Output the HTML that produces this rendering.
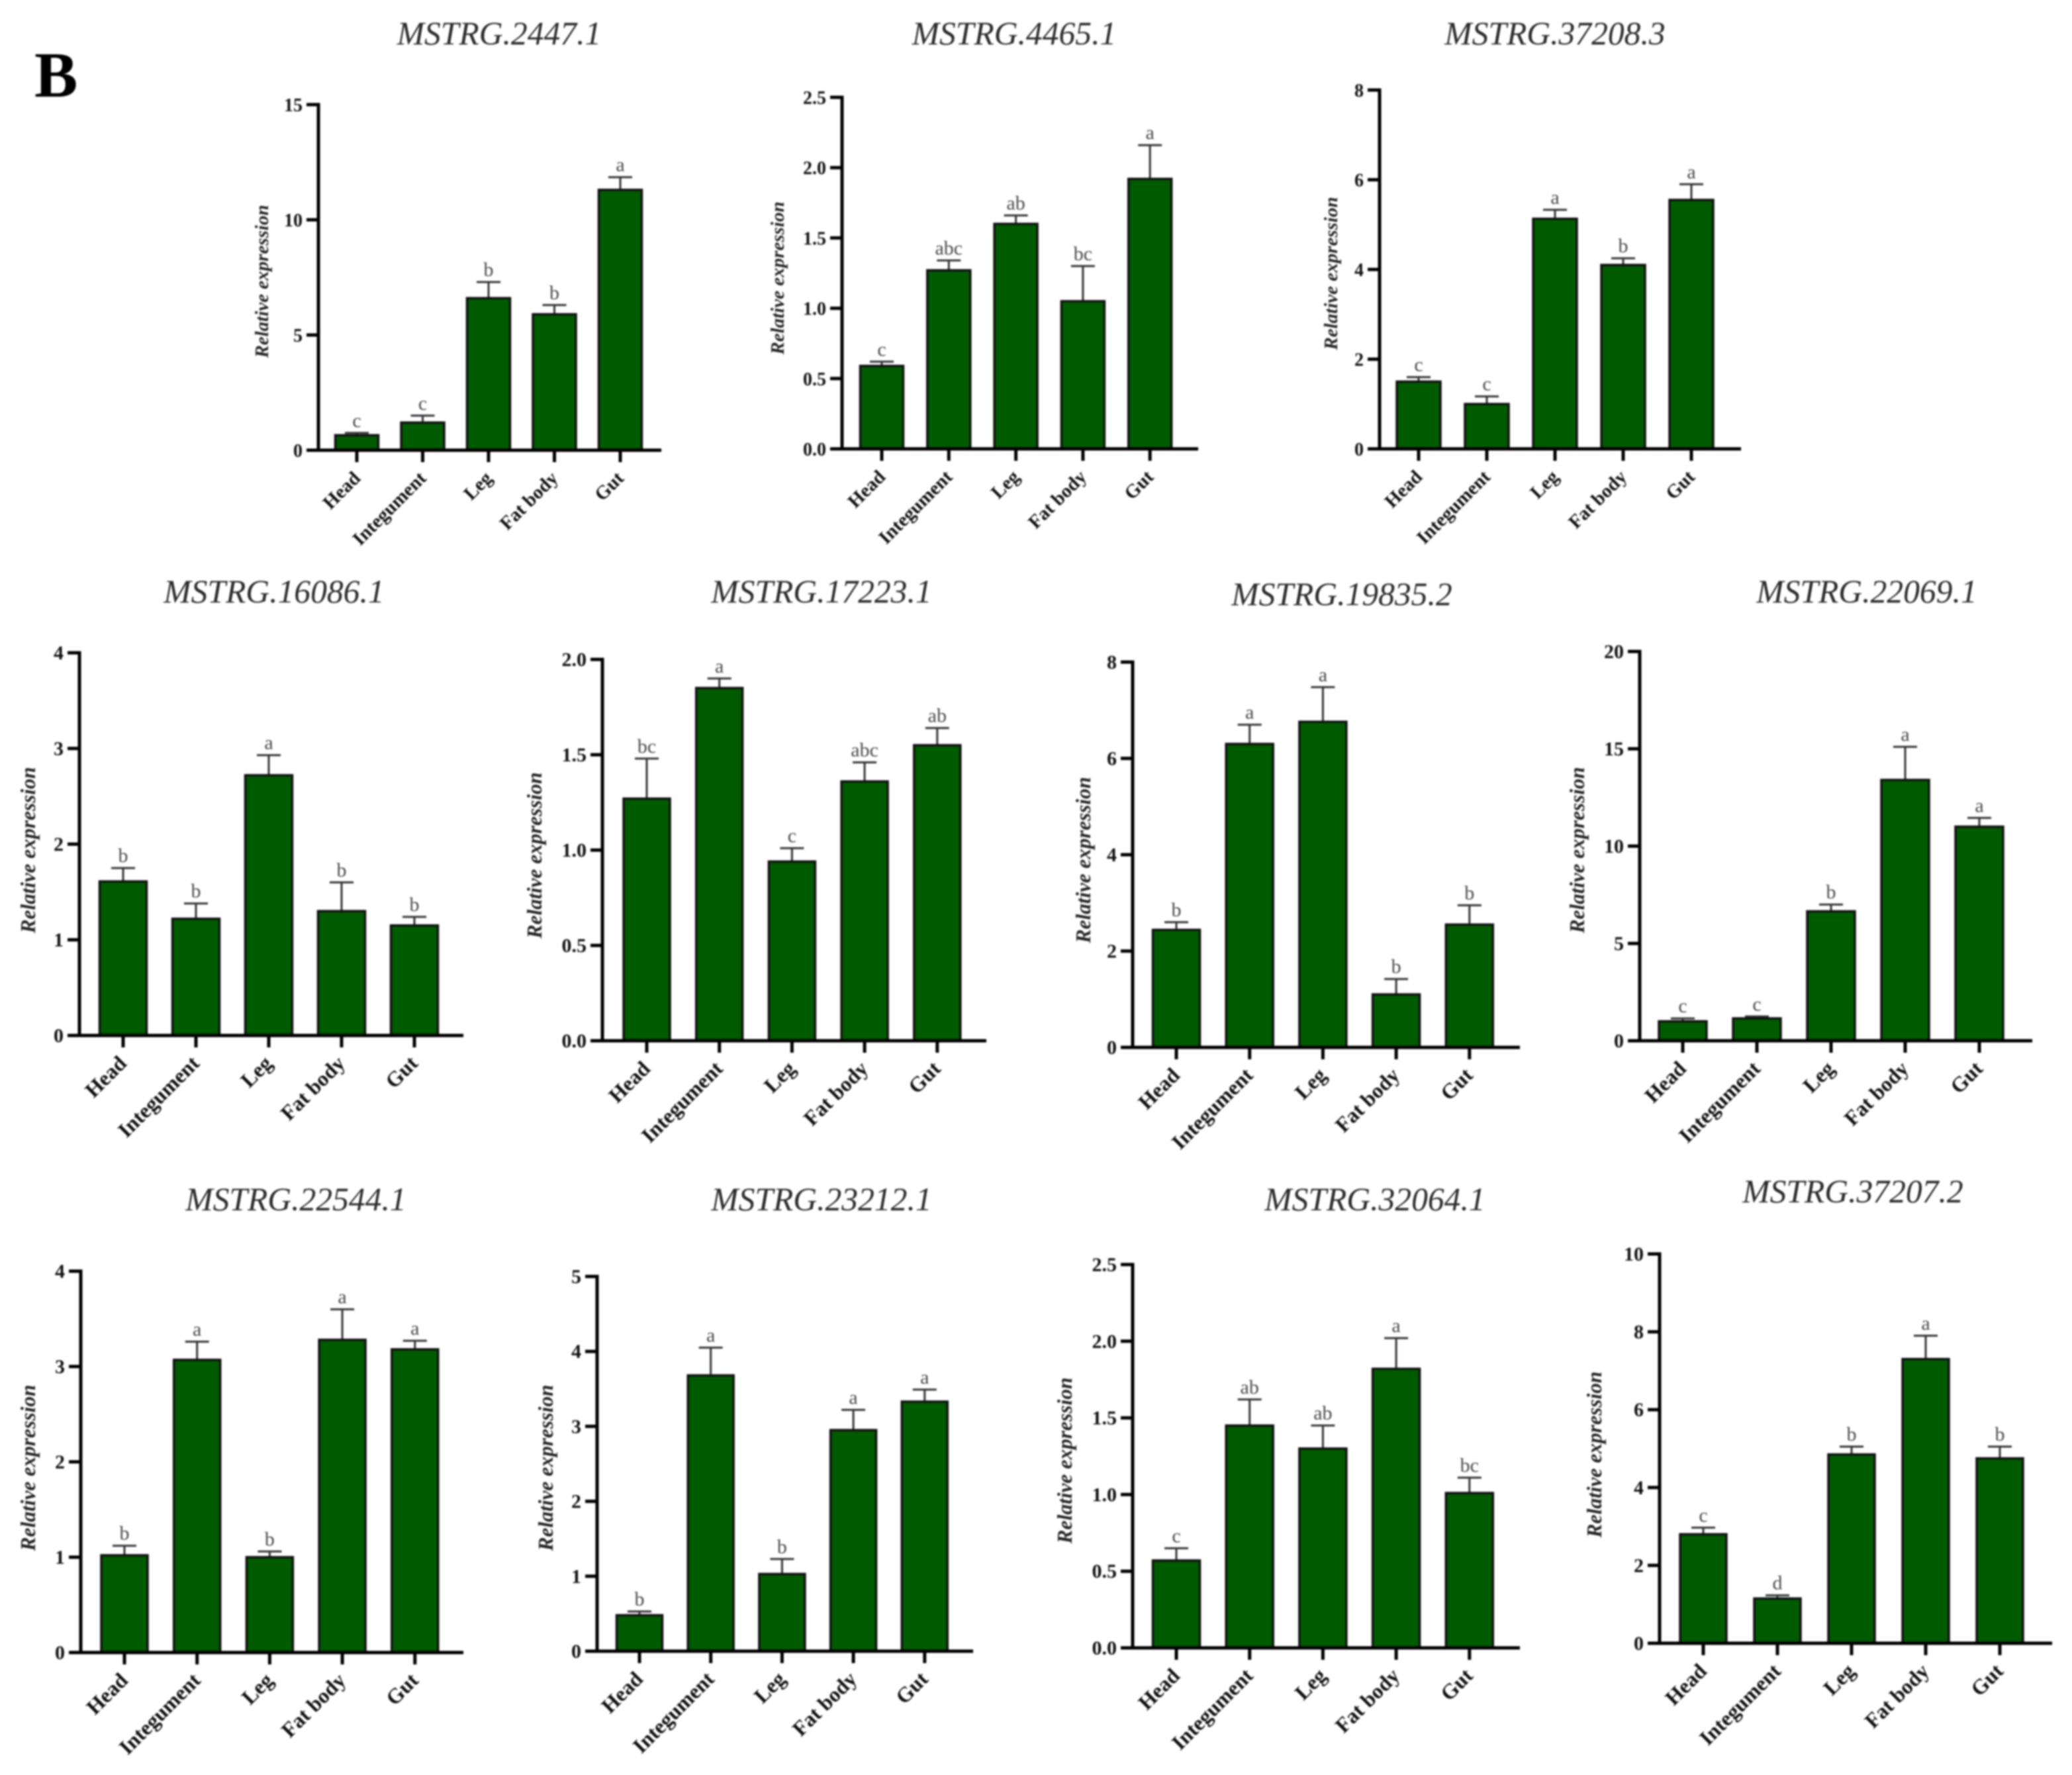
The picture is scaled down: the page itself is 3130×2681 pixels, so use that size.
<!DOCTYPE html>
<html lang="en">
<head>
<meta charset="utf-8">
<title>Relative expression by tissue</title>
<style>
html,body{margin:0;padding:0;background:#fff;width:3130px;height:2681px;overflow:hidden}
svg{display:block;filter:blur(1.3px)}
text{font-family:"Liberation Serif",serif;fill:#111}
.panel-title{font-style:italic;font-size:49.6px;text-anchor:middle;fill:#2c2c2c}
.panel-letter{font-weight:bold;font-size:98px;fill:#000}
.tick{font-weight:bold;text-anchor:end}
.cat{font-weight:bold;text-anchor:end}
.ytitle{font-weight:bold;font-style:italic;text-anchor:middle;fill:#222}
.sig{font-size:30px;text-anchor:middle;fill:#4a4a4a}
</style>
</head>
<body>
<svg id="figure" xmlns="http://www.w3.org/2000/svg" width="3130" height="2681" viewBox="0 0 3130 2681">
<rect width="3130" height="2681" fill="#fff"/>
<text class="panel-letter" x="52" y="146">B</text>
<text class="panel-title" x="754" y="67">MSTRG.2447.1</text>
<text class="panel-title" x="1532" y="67">MSTRG.4465.1</text>
<text class="panel-title" x="2349" y="67">MSTRG.37208.3</text>
<text class="panel-title" x="414" y="910">MSTRG.16086.1</text>
<text class="panel-title" x="1241" y="910">MSTRG.17223.1</text>
<text class="panel-title" x="2027" y="914">MSTRG.19835.2</text>
<text class="panel-title" x="2820" y="910">MSTRG.22069.1</text>
<text class="panel-title" x="447" y="1828">MSTRG.22544.1</text>
<text class="panel-title" x="1241" y="1828">MSTRG.23212.1</text>
<text class="panel-title" x="2077" y="1828">MSTRG.32064.1</text>
<text class="panel-title" x="2799" y="1816">MSTRG.37207.2</text>
</svg>
<script>
// Chart data
const categories = ["Head", "Integument", "Leg", "Fat body", "Gut"];
const yAxisTitle = "Relative expression";
const panelNames = ["2447-1", "4465-1", "37208-3", "16086-1", "17223-1", "19835-2", "22069-1", "22544-1", "23212-1", "32064-1", "37207-2"];
const axisMax = [15, 2.5, 8, 4, 2, 8, 20, 4, 5, 2.5, 10];
const tickStep = [5, 0.5, 2, 1, 0.5, 2, 5, 1, 1, 0.5, 2];
const tickDecimals = [0, 1, 0, 0, 1, 0, 0, 0, 0, 1, 0];
const means = [
  [0.65, 1.2, 6.6, 5.9, 11.3],
  [0.59, 1.27, 1.6, 1.05, 1.92],
  [1.5, 1.0, 5.13, 4.1, 5.55],
  [1.61, 1.22, 2.72, 1.3, 1.15],
  [1.27, 1.85, 0.94, 1.36, 1.55],
  [2.44, 6.3, 6.76, 1.1, 2.55],
  [1.0, 1.15, 6.65, 13.4, 11.0],
  [1.02, 3.07, 1.0, 3.28, 3.18],
  [0.48, 3.68, 1.03, 2.95, 3.33],
  [0.57, 1.45, 1.3, 1.82, 1.01],
  [2.8, 1.15, 4.85, 7.3, 4.75]
];
const errors = [
  [0.1, 0.3, 0.7, 0.4, 0.55],
  [0.03, 0.07, 0.06, 0.25, 0.24],
  [0.1, 0.17, 0.2, 0.15, 0.35],
  [0.14, 0.16, 0.21, 0.3, 0.09],
  [0.21, 0.05, 0.07, 0.1, 0.09],
  [0.16, 0.4, 0.72, 0.32, 0.4],
  [0.15, 0.1, 0.35, 1.7, 0.45],
  [0.1, 0.19, 0.06, 0.32, 0.09],
  [0.05, 0.37, 0.2, 0.27, 0.16],
  [0.08, 0.17, 0.15, 0.2, 0.1],
  [0.17, 0.08, 0.2, 0.6, 0.3]
];
const significance = [
  ["c", "c", "b", "b", "a"],
  ["c", "abc", "ab", "bc", "a"],
  ["c", "c", "a", "b", "a"],
  ["b", "b", "a", "b", "b"],
  ["bc", "a", "c", "abc", "ab"],
  ["b", "a", "a", "b", "b"],
  ["c", "c", "b", "a", "a"],
  ["b", "a", "b", "a", "a"],
  ["b", "a", "b", "a", "a"],
  ["c", "ab", "ab", "a", "bc"],
  ["c", "d", "b", "a", "b"]
];

// Panel frames (layout, not data)
const frameLeft = [481, 1272, 2084, 120, 910, 1711, 2477, 122, 902, 1711, 2507];
const frameRight = [999, 1810, 2630, 700, 1490, 2296, 3070, 700, 1470, 2296, 3100];
const frameTop = [158, 147, 136, 986, 996, 1000, 984, 1920, 1928, 1910, 1894];
const frameBottom = [680, 678, 678, 1564, 1572, 1582, 1572, 2496, 2494, 2489, 2482];
const firstBarCenter = [539, 1332, 2143, 186, 977, 1777, 2542, 188, 966, 1777, 2573];
const barStep = [99.5, 101.3, 103, 110, 109.7, 110.7, 112, 109.7, 107.7, 110.7, 112];
const barWidth = [65, 65, 66, 71, 70, 71, 72, 70, 69, 71, 70];
const yTitleX = [405, 1184, 2020, 53, 818, 1647, 2393, 53, 835, 1619, 2419];
const yTitleY = [425, 420, 413, 1284, 1292, 1299, 1284, 2217, 2217, 2206, 2197];
const yTitleSize = [29, 29, 29, 31.5, 31.5, 31.5, 31.5, 31.5, 31.5, 31.5, 31.5];
const catLabelSize = [29, 29, 29, 32, 32, 32, 32, 32, 32, 32, 32];
const tickLabelSize = [28, 28, 28, 30, 30, 30, 30, 30, 30, 30, 30];

const svg = document.getElementById("figure");
const NS = "http://www.w3.org/2000/svg";
const AXIS_W = 5;
const TICK_LEN = 18;
const CAP_HALF = 18;

function shape(parent, tag, attrs) {
  const el = document.createElementNS(NS, tag);
  for (const key in attrs) el.setAttribute(key, attrs[key]);
  parent.appendChild(el);
  return el;
}

function yScale(p, value) {
  return frameBottom[p] - (value / axisMax[p]) * (frameBottom[p] - frameTop[p]);
}

function xScale(p, index) {
  return firstBarCenter[p] + barStep[p] * index;
}

means.forEach(function (series, p) {
  const group = shape(svg, "g", {});
  
  

  // Bars, error bars, significance letters
  series.forEach(function (value, i) {
    const cx = xScale(p, i);
    const yTop = yScale(p, value);
    const yErr = yScale(p, value + errors[p][i]);
    const half = barWidth[p] / 2;

    const whisker = shape(group, "path", {
      d: "M" + cx + " " + yTop + "V" + yErr + "M" + (cx - CAP_HALF) + " " + yErr + "H" + (cx + CAP_HALF),
      fill: "none", stroke: "#333", "stroke-width": 3
    });
    
    

    const bar = shape(group, "rect", {
      x: cx - half, y: yTop, width: barWidth[p], height: frameBottom[p] - yTop,
      fill: "#005a00", stroke: "#111", "stroke-width": 3.5
    });
    
    

    const letter = shape(group, "text", { class: "sig", x: cx, y: yErr - 9 });
    letter.textContent = significance[p][i];
    
    

    const catTick = shape(group, "line", {
      x1: cx, x2: cx, y1: frameBottom[p], y2: frameBottom[p] + TICK_LEN,
      stroke: "#000", "stroke-width": AXIS_W
    });
    
    

    const lx = cx + 7;
    const ly = frameBottom[p] + 44;
    const label = shape(group, "text", {
      class: "cat", x: lx, y: ly, "font-size": catLabelSize[p], transform: "rotate(-45 " + lx + " " + ly + ")"
    });
    label.textContent = categories[i];
    
    
  });

  // Axes
  const yAxis = shape(group, "line", {
    x1: frameLeft[p], x2: frameLeft[p], y1: frameTop[p] - AXIS_W / 2, y2: frameBottom[p] + AXIS_W / 2,
    stroke: "#000", "stroke-width": AXIS_W
  });
  
  

  const xAxis = shape(group, "line", {
    x1: frameLeft[p] - TICK_LEN, x2: frameRight[p], y1: frameBottom[p], y2: frameBottom[p],
    stroke: "#000", "stroke-width": AXIS_W
  });
  
  

  // Value ticks
  const tickCount = Math.round(axisMax[p] / tickStep[p]);
  for (let t = 0; t <= tickCount; t++) {
    const v = t * tickStep[p];
    const ty = yScale(p, v);
    const tick = shape(group, "line", {
      x1: frameLeft[p] - TICK_LEN, x2: frameLeft[p], y1: ty, y2: ty,
      stroke: "#000", "stroke-width": AXIS_W
    });
    
    

    const tickLabel = shape(group, "text", {
      class: "tick", x: frameLeft[p] - 24, y: ty + 10, "font-size": tickLabelSize[p]
    });
    tickLabel.textContent = v.toFixed(tickDecimals[p]);
    
    
  }

  // Y axis title
  const tx = yTitleX[p];
  const tyMid = yTitleY[p];
  const yTitle = shape(group, "text", {
    class: "ytitle", x: tx, y: tyMid, "font-size": yTitleSize[p], transform: "rotate(-90 " + tx + " " + tyMid + ")"
  });
  yTitle.textContent = yAxisTitle;
  
  
});
</script>
</body>
</html>
